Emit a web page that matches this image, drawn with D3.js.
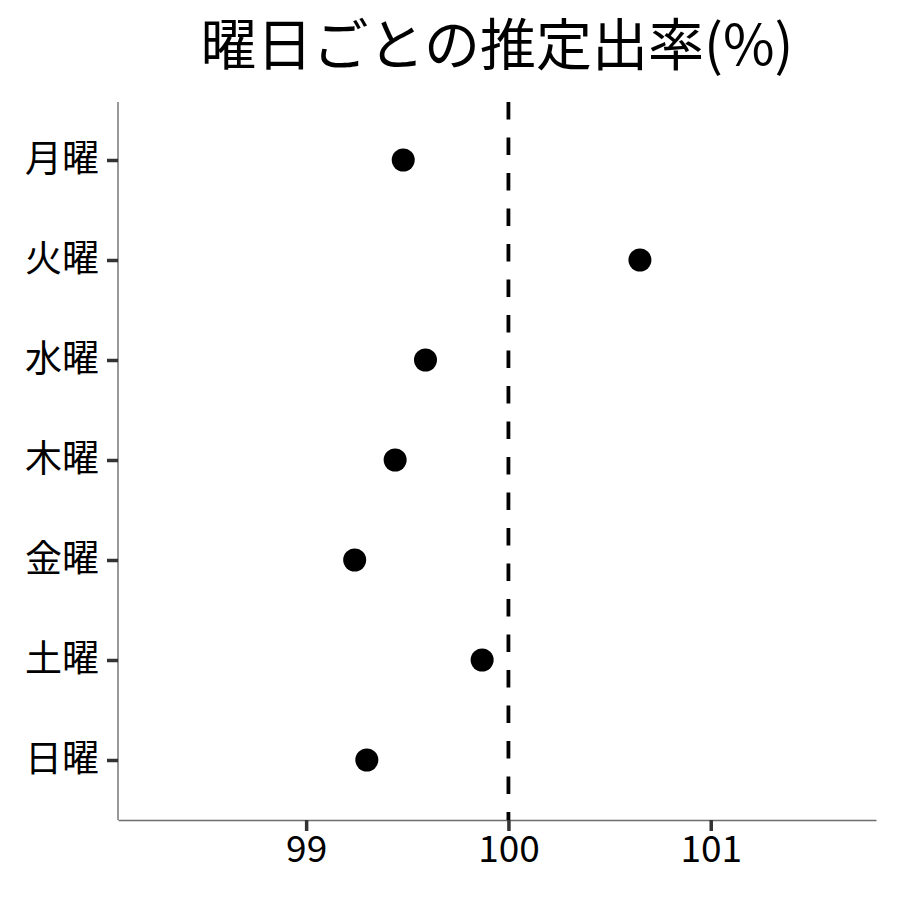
<!DOCTYPE html>
<html>
<head>
<meta charset="utf-8">
<script src="https://cdn.jsdelivr.net/npm/d3@7"></script>
<style>
  body { margin: 0; background: #fff; }
  text { font-family: "Noto Sans CJK JP", "Noto Sans", sans-serif; }
</style>
</head>
<body>
<svg></svg>
<script>
const width = 900;
const height = 900;

// data
const days = ["月曜", "火曜", "水曜", "木曜", "金曜", "土曜", "日曜"];
const rates = [99.48, 100.65, 99.59, 99.44, 99.24, 99.87, 99.30];
const xTicks = [99, 100, 101];
const refValue = 100;
const title = "曜日ごとの推定出率(%)";

const margin = { top: 100, right: 24, bottom: 80, left: 118 };

const svg = d3.select("svg")
  .attr("width", width)
  .attr("height", height);

const x = d3.scaleLinear()
  .domain([98.07, 101.817])
  .range([margin.left, width - margin.right]);

const y = d3.scalePoint()
  .domain(days)
  .range([margin.top, height - margin.bottom])
  .padding(0.6);

// title
svg.append("text")
  .attr("x", (margin.left + width - margin.right) / 2)
  .attr("y", 65)
  .attr("text-anchor", "middle")
  .style("font-size", "56px")
  .text(title);

// x axis
const xAxis = svg.append("g")
  .attr("transform", `translate(0,${height - margin.bottom})`)
  .call(d3.axisBottom(x).tickValues(xTicks).tickSize(11).tickSizeOuter(0)
    .tickPadding(5).tickFormat(d3.format("d")));
xAxis.select(".domain").style("stroke", "#6e6e6e").style("stroke-width", "1.4px");
xAxis.selectAll(".tick line").remove();
xAxis.selectAll(".tick").append("rect")
  .attr("x", -1.75).attr("y", 0).attr("width", 3.5).attr("height", 11)
  .attr("fill", "#333");
xAxis.selectAll(".tick text")
  .attr("fill", "#000")
  .style("font-size", "37px");

// y axis
const yAxis = svg.append("g")
  .attr("transform", `translate(${margin.left},0)`)
  .call(d3.axisLeft(y).tickSize(11).tickSizeOuter(0).tickPadding(8));
yAxis.select(".domain").style("stroke", "#6e6e6e").style("stroke-width", "1.4px")
  .attr("d", `M0,${margin.top + 2}V${height - margin.bottom}`);
yAxis.selectAll(".tick line").remove();
yAxis.selectAll(".tick").append("rect")
  .attr("x", -11).attr("y", -1.75).attr("width", 11).attr("height", 3.5)
  .attr("fill", "#333");
yAxis.selectAll(".tick text")
  .attr("fill", "#000")
  .style("font-size", "37px");

// reference line
svg.append("line")
  .attr("x1", x(refValue))
  .attr("x2", x(refValue))
  .attr("y1", margin.top + 2)
  .attr("y2", height - margin.bottom)
  .attr("stroke", "#000")
  .attr("stroke-width", 3.8)
  .attr("stroke-dasharray", "17.5,18");

// points
svg.append("g")
  .selectAll("circle")
  .data(days)
  .enter()
  .append("circle")
  .attr("cx", (d, i) => x(rates[i]))
  .attr("cy", d => y(d))
  .attr("r", 11.5)
  .attr("fill", "#000");
</script>
</body>
</html>
